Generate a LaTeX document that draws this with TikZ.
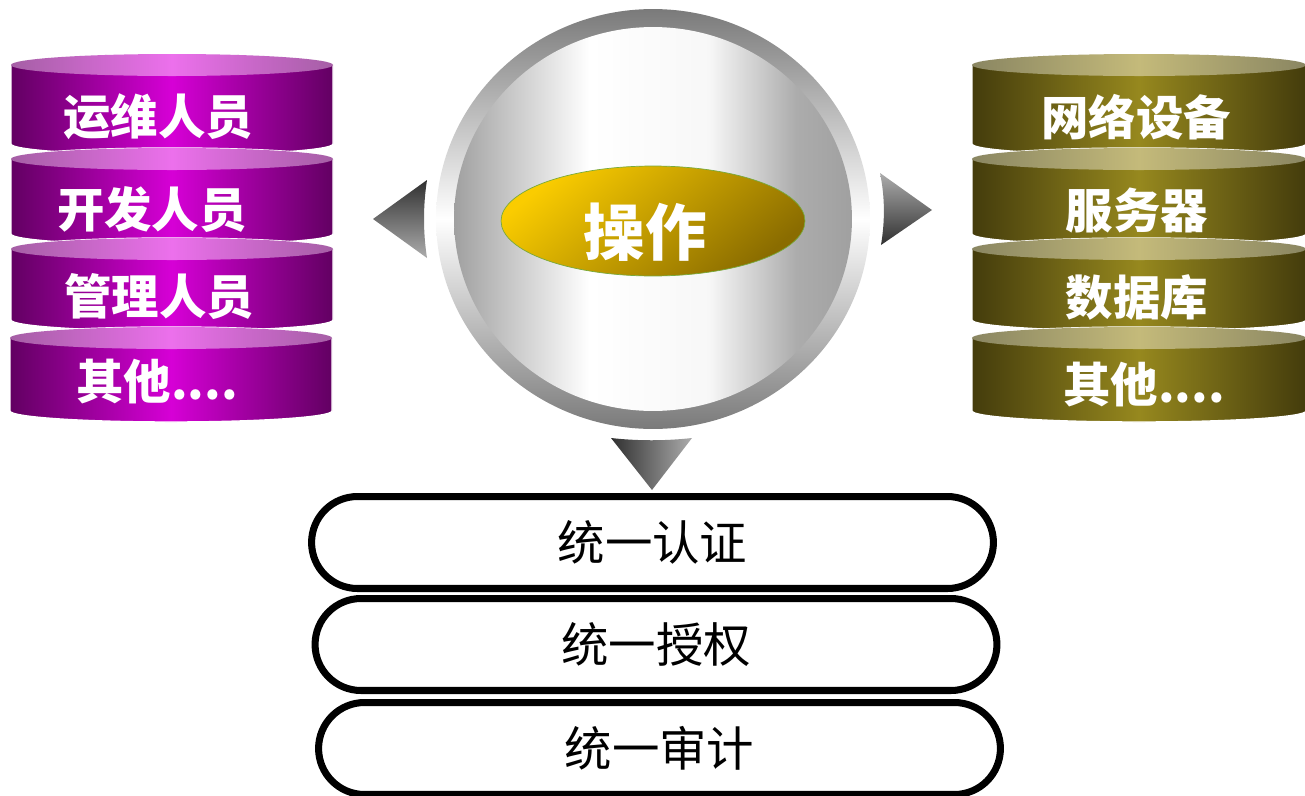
\documentclass[tikz,border=0pt]{standalone}
\usepackage{fontspec}
\setmainfont{Noto Sans CJK SC}
\usetikzlibrary{shapes.geometric}
\definecolor{pedge}{RGB}{98,0,98}
\definecolor{pmid}{RGB}{214,0,214}
\definecolor{pcapedge}{RGB}{165,95,165}
\definecolor{pcapmid}{RGB}{236,112,236}
\definecolor{oedge}{RGB}{68,60,12}
\definecolor{omid}{RGB}{150,136,30}
\definecolor{ocapedge}{RGB}{138,134,98}
\definecolor{ocapmid}{RGB}{196,186,122}
\definecolor{ringgray}{RGB}{122,122,122}
\definecolor{discgray}{RGB}{160,160,160}
\definecolor{discgrayb}{RGB}{172,172,172}
\definecolor{gold1}{RGB}{250,204,0}
\definecolor{gold2}{RGB}{138,108,0}
\definecolor{opgreen}{RGB}{120,170,60}
\definecolor{tridark}{RGB}{48,48,48}
\definecolor{trilight}{RGB}{172,172,172}
\pgfdeclarehorizontalshading{discshade}{100bp}{color(0bp)=(discgray); color(25bp)=(discgray);
  color(42bp)=(white); color(57bp)=(white!97!black); color(68bp)=(discgrayb); color(75bp)=(discgray); color(100bp)=(discgray)}
\tikzset{
  pbody/.style={left color=pedge, right color=pedge, middle color=pmid},
  pcap/.style={left color=pcapedge, right color=pcapedge, middle color=pcapmid},
  obody/.style={left color=oedge, right color=oedge, middle color=omid},
  ocap/.style={left color=ocapedge, right color=ocapedge, middle color=ocapmid},
  cyltext/.style={font=\bfseries\fontsize{27}{30}\selectfont, text=white, inner sep=0pt},
  pill/.style={draw=black, line width=4pt, rounded corners=0.92cm, minimum width=13.64cm,
    minimum height=1.84cm, inner sep=0pt, font=\fontsize{27}{30}\selectfont},
}
\newcommand\cylseg[6]{%
  \path[#5, draw=white, line width=0.8pt] ({#1-#2},{-#3}) -- ({#1-#2},{-#4})
    arc[start angle=180, end angle=360, x radius=#2, y radius=11]
    -- ({#1+#2},{-#3})
    arc[start angle=0, end angle=180, x radius=#2, y radius=11] -- cycle;
  \path[#6] (#1,{-#3}) ellipse[x radius=#2, y radius=11];
}
\begin{document}
\begin{tikzpicture}[x=0.02cm, y=0.02cm]
\useasboundingbox (0,0) rectangle (1305,-795);

% left stack
\cylseg{172}{161}{65}{144}{pbody}{pcap}
\cylseg{172}{161}{159}{234}{pbody}{pcap}
\cylseg{172}{161}{249}{320}{pbody}{pcap}
\cylseg{171}{161}{338}{411}{pbody}{pcap}
\node[cyltext] (l1) at (158,-117) {运维人员};
\node[cyltext] (l2) at (152,-210) {开发人员};
\node[cyltext] (l3) at (159,-297) {管理人员};
\node[cyltext] (l4) at (157,-382) {其他....};

% right stack
\cylseg{1139}{167}{65}{144}{obody}{ocap}
\cylseg{1139}{167}{159}{234}{obody}{ocap}
\cylseg{1139}{167}{249}{320}{obody}{ocap}
\cylseg{1139}{167}{338}{411}{obody}{ocap}
\node[cyltext] (r1) at (1136,-117) {网络设备};
\node[cyltext] (r2) at (1137,-210) {服务器};
\node[cyltext] (r3) at (1137,-297) {数据库};
\node[cyltext] (r4) at (1144,-385) {其他....};

% central circle
\node[ellipse, minimum width=8.68cm, minimum height=8.4cm, inner sep=0pt,
  top color=ringgray, bottom color=ringgray, middle color=white] (ring) at (653,-219) {};
\node[ellipse, minimum width=7.96cm, minimum height=7.68cm, inner sep=0pt,
  shading=discshade] (disc) at (653,-219) {};
\node[ellipse, minimum width=6.08cm, minimum height=2.2cm, inner sep=0pt,
  draw=opgreen, line width=0.4pt, top color=gold1, bottom color=gold2, shading angle=40] (op) at (653,-221) {};
\node[font=\bfseries\fontsize{35}{40}\selectfont, text=white, inner sep=0pt] (optext) at (645,-232) {操作};

% triangles
\shade[top color=tridark, bottom color=trilight]
  (427,-180) -- (373,-219) -- (427,-258) .. controls (423,-232) and (423,-206) .. cycle;
\shade[top color=trilight, bottom color=tridark]
  (880,-173) -- (932,-210) -- (881,-245) .. controls (885,-221) and (885,-197) .. cycle;
\shade[left color=tridark, right color=trilight]
  (611,-438) .. controls (638,-441) and (665,-441) .. (692,-438) -- (652,-490) -- cycle;

% pills
\node[pill] (p1) at (652.5,-542.5) {统一认证};
\node[pill] (p2) at (656,-644.5) {统一授权};
\node[pill] (p3) at (659.5,-748.5) {统一审计};
\end{tikzpicture}
\end{document}
